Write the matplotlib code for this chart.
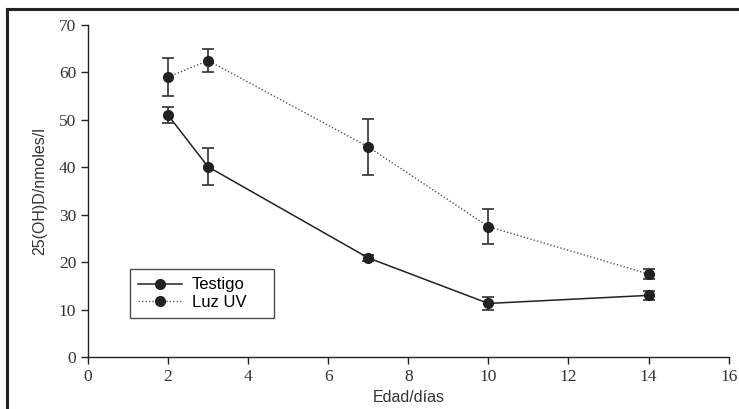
import matplotlib
matplotlib.use("Agg")
import matplotlib.pyplot as plt
from matplotlib.lines import Line2D

# data
edad = [2, 3, 7, 10, 14]
testigo = [51.0, 40.1, 20.9, 11.3, 13.0]
testigo_err = [1.7, 3.9, 0.6, 1.3, 1.0]
luz_uv = [59.0, 62.5, 44.3, 27.5, 17.5]
luz_uv_err = [4.0, 2.5, 5.9, 3.7, 1.0]

xticks = [0, 2, 4, 6, 8, 10, 12, 14, 16]
yticks = [0, 10, 20, 30, 40, 50, 60, 70]

fig = plt.figure(figsize=(7.39, 4.09), dpi=100)
ax = fig.add_axes([0.119, 0.127, 0.867, 0.812])

c = "#222222"
ax.errorbar(edad, testigo, yerr=testigo_err, fmt="o-", color=c, lw=1.1,
            ms=7, capsize=4, elinewidth=1.1, capthick=1.1, label="Testigo")
ax.errorbar(edad, luz_uv, yerr=luz_uv_err, fmt="o", color=c, ms=7,
            capsize=4, elinewidth=1.1, capthick=1.1)
ax.plot(edad, luz_uv, ls=(0, (1, 1.5)), color="#555555", lw=1.0)

ax.set_xlim(0, 16)
ax.set_ylim(0, 70)
ax.set_xticks(xticks)
ax.set_yticks(yticks)
for s in ["top", "right"]:
    ax.spines[s].set_visible(False)
for s in ["left", "bottom"]:
    ax.spines[s].set_color(c)
    ax.spines[s].set_linewidth(1.0)
ax.tick_params(direction="out", length=5, width=1, color=c, labelcolor="#333333")
for lab in ax.get_xticklabels() + ax.get_yticklabels():
    lab.set_family("Liberation Serif")
    lab.set_fontsize(12.5)

ax.set_xlabel("Edad/días", family="Liberation Sans", fontsize=11.5, color="#333333", labelpad=4)
ax.set_ylabel("25(OH)D/nmoles/l", family="Liberation Sans", fontsize=11.5, color="#333333", labelpad=8)

handles = [
    Line2D([], [], color=c, marker="o", ms=7, lw=1.1),
    Line2D([], [], color="#555555", marker="o", ms=7, mfc=c, mec=c, lw=1.0, ls=(0, (1, 1.5))),
]
leg = ax.legend(handles, ["Testigo", "Luz UV"], loc="upper left",
                bbox_to_anchor=(130 / 739, 1 - 317 / 409, 144 / 739, 48 / 409),
                bbox_transform=fig.transFigure, mode="expand", borderaxespad=0,
                prop={"family": "Liberation Sans", "size": 12},
                frameon=True, fancybox=False, handlelength=2.6,
                borderpad=0.5, labelspacing=0.15, handletextpad=0.6)
leg.get_frame().set_edgecolor(c)
leg.get_frame().set_linewidth(1.0)

# outer frame lines (top and left)
fig.add_artist(Line2D([7 / 739, 1], [1 - 9 / 409, 1 - 9 / 409], transform=fig.transFigure,
                      color=c, lw=2.2))
fig.add_artist(Line2D([7 / 739, 7 / 739], [0, 1 - 9 / 409], transform=fig.transFigure,
                      color=c, lw=2.2))

fig.savefig("out.png", dpi=100)
